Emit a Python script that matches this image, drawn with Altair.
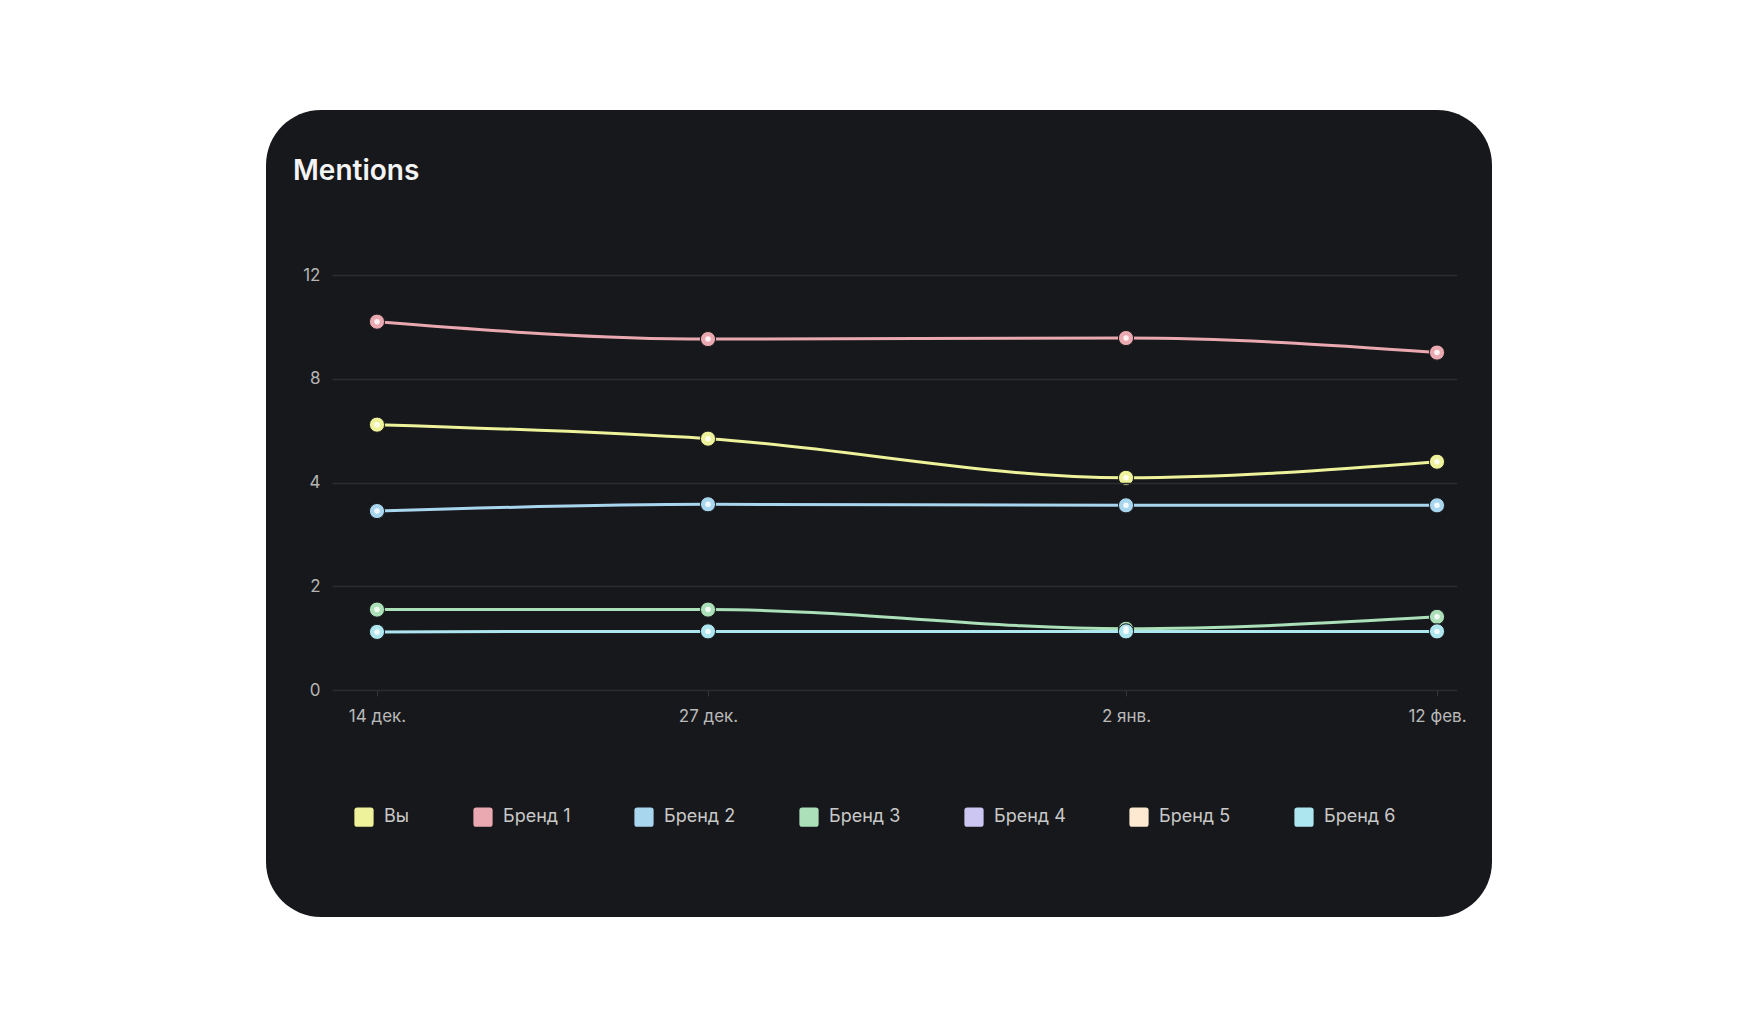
import json

import altair as alt
import pandas as pd

# --- data ---
dates = ["14 дек.", "27 дек.", "2 янв.", "12 фев."]
series = ["Вы", "Бренд 1", "Бренд 2", "Бренд 3", "Бренд 4", "Бренд 5", "Бренд 6"]
colors = ["#eef29a", "#eaa9b0", "#a9d6ef", "#abe0b9", "#cbc6f2", "#fde8d2", "#ade6ee"]

vy = [6.23, 5.69, 4.18, 4.8]
brand1 = [10.2, 9.53, 9.57, 9.01]
brand2 = [3.45, 3.58, 3.56, 3.56]
brand3 = [1.55, 1.55, 1.18, 1.41]
brand6 = [1.12, 1.13, 1.13, 1.13]

y_ticks = [0, 2, 4, 8, 12]

rows = []
for name, vals in [("Вы", vy), ("Бренд 1", brand1), ("Бренд 2", brand2),
                   ("Бренд 3", brand3), ("Бренд 6", brand6)]:
    for i, v in enumerate(vals):
        rows.append({"idx": i, "date": dates[i], "brand": name, "value": v,
                     "col": colors[series.index(name)]})
df = pd.DataFrame(rows)

W, H = 1125, 415
BG = "#17181b"

# uneven spacing of the dates and the 0-2-4-8-12 axis, as in the original widget
x_scale = alt.Scale(domain=[-1, 0, 1, 2, 3, 4], range=[0, 45, 376, 794, 1105, W],
                    nice=False, zero=False)
y_scale = alt.Scale(domain=y_ticks, range=[H, H * 0.75, H * 0.5, H * 0.25, 0],
                    nice=False, zero=False)

label_expr = json.dumps(dates) + "[datum.value]"

x_enc = alt.X("idx:Q", scale=x_scale, title=None,
              axis=alt.Axis(values=[0, 1, 2, 3], labelExpr=label_expr, grid=False,
                            domain=False, ticks=True, tickSize=6, tickColor="#34353a",
                            labelPadding=12, labelFontSize=17, labelColor="#b9b9b9",
                            labelBaseline="top", zindex=1))
y_enc = alt.Y("value:Q", scale=y_scale, title=None,
              axis=alt.Axis(values=y_ticks, grid=True, gridColor="#2b2c30", gridWidth=1.5,
                            domain=False, ticks=False, labelPadding=12, labelFontSize=17,
                            labelColor="#b5b5b5", zindex=1))
color_scale = alt.Scale(domain=series, range=colors)

rounded_square = "M-0.7,-1H0.7Q1,-1,1,-0.7V0.7Q1,1,0.7,1H-0.7Q-1,1,-1,0.7V-0.7Q-1,-1,-0.7,-1Z"

one = pd.DataFrame({"k": [0]})

card = alt.Chart(one).mark_rect(color=BG, cornerRadius=55).encode(
    x=alt.value(-66), x2=alt.value(1160), y=alt.value(-165), y2=alt.value(642)
)

title = alt.Chart(one).mark_text(
    text="Mentions", align="left", baseline="alphabetic", fontSize=28,
    fontWeight=600, color="#f4f4f4", font="Inter"
).encode(x=alt.value(-39), y=alt.value(-95))

base = alt.Chart(df).encode(x=x_enc, y=y_enc)

lines = base.mark_line(interpolate="monotone", strokeWidth=3).encode(
    stroke=alt.Stroke("col:N", scale=None),
    detail="brand:N",
)

points = base.mark_point(filled=True, size=230, opacity=1, stroke=BG, strokeWidth=1).encode(
    color=alt.Color("brand:N", scale=color_scale,
                    legend=alt.Legend(orient="none", legendX=22, legendY=532,
                                      direction="horizontal", columns=7, title=None,
                                      symbolType=rounded_square, symbolSize=370,
                                      symbolStrokeWidth=0, symbolOpacity=1,
                                      labelFontSize=18, labelColor="#c9c9c9",
                                      labelFont="Inter", labelOffset=10,
                                      columnPadding=63, zindex=1)),
)

dots = base.mark_point(filled=True, size=30, opacity=0.85, color="white")

chart = alt.layer(card, lines, points, dots, title).properties(
    width=W,
    height=H,
    autosize=alt.AutoSizeParams(type="none"),
    padding={"left": 324, "top": 267, "right": 280, "bottom": 300},
    background="white",
).configure_view(
    stroke=None
).configure_axis(
    labelFont="Inter"
)

chart.save("out.html", embed_options={"renderer": "svg", "actions": False})
